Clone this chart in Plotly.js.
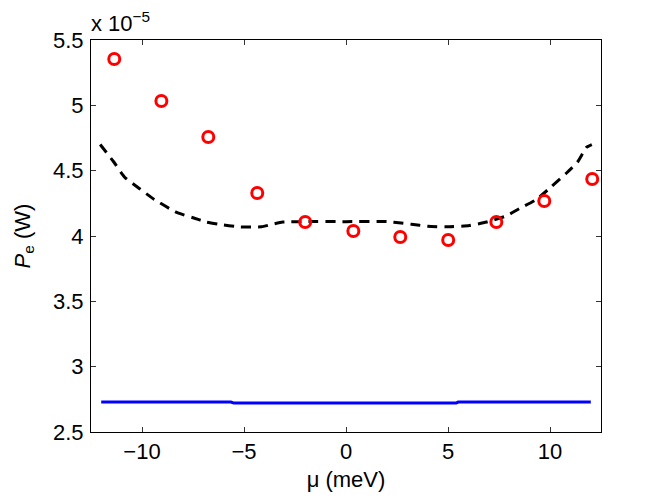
<!DOCTYPE html>
<html>
<head>
<meta charset="utf-8">
<script src="https://cdn.plot.ly/plotly-3.0.1.min.js"></script>
<style>
  html, body { margin: 0; padding: 0; background: #fff; }
  #chart { width: 664px; height: 497px; }
</style>
</head>
<body>
<div id="chart"></div>
<script>
// measured points (units of 1e-5 W)
const muMeas = [-11.36, -9.05, -6.75, -4.35, -2.0, 0.36, 2.66, 5.01, 7.37, 9.72, 12.07]
const peMeas = [5.355, 5.033, 4.758, 4.329, 4.107, 4.038, 3.992, 3.969, 4.107, 4.268, 4.436]

// dashed model curve
const muModel = [-12.05, -11.4, -10.85, -10.1, -9.4, -8.3, -7.5, -6.85, -6.0, -5.2, -4.15, -3.6, -3.1, -2.0, 0, 2.0, 2.7, 3.2, 4.0, 4.9, 6.05, 6.9, 7.85, 8.5, 9.3, 10.05, 10.8, 11.35, 11.8, 12.05]
const peModel = [4.70, 4.57, 4.45, 4.36, 4.28, 4.18, 4.14, 4.107, 4.085, 4.07, 4.07, 4.09, 4.107, 4.11, 4.11, 4.11, 4.10, 4.09, 4.075, 4.07, 4.08, 4.107, 4.153, 4.21, 4.276, 4.375, 4.48, 4.566, 4.68, 4.70]

// solid reference line
const muRef = [-12.0, -5.64, -5.5, 5.4, 5.5, 12.0]
const peRef = [2.729, 2.729, 2.721, 2.721, 2.729, 2.729]

const font = {family: 'Liberation Sans, Arial, sans-serif', size: 22, color: '#000'}

const data = [
    {
        x: muRef, y: peRef, type: 'scatter', mode: 'lines',
        line: {color: '#0000ff', width: 3}, hoverinfo: 'skip'
    },
    {
        x: muModel, y: peModel, type: 'scatter', mode: 'lines',
        line: {color: '#000', width: 3, dash: '10px,7px', shape: 'spline', smoothing: 0.5}
    },
    {
        x: muMeas, y: peMeas, type: 'scatter', mode: 'markers',
        marker: {symbol: 'circle-open', size: 11, color: '#ff0000', line: {width: 3, color: '#ff0000'}}
    },
]

const layout = {
    width: 664,
    height: 497,
    showlegend: false,
    paper_bgcolor: '#fff',
    plot_bgcolor: '#fff',
    font: font,
    margin: {l: 91, r: 63, t: 40, b: 65, pad: 0},
    xaxis: {
        range: [-12.5, 12.5],
        tickvals: [-10, -5, 0, 5, 10],
        ticktext: ['\u221210', '\u22125', '0', '5', '10'],
        ticks: 'inside', ticklen: 5, tickcolor: '#333', tickwidth: 1,
        showline: true, linecolor: '#000', linewidth: 1, mirror: 'ticks',
        showgrid: false, zeroline: false,
        tickfont: font,
        title: {text: '\u03bc (meV)', font: font, standoff: 8},
    },
    yaxis: {
        range: [2.5, 5.5],
        tickvals: [2.5, 3, 3.5, 4, 4.5, 5, 5.5],
        ticktext: ['2.5', '3', '3.5', '4', '4.5', '5', '5.5'],
        ticks: 'inside', ticklen: 5, tickcolor: '#333', tickwidth: 1,
        showline: true, linecolor: '#000', linewidth: 1, mirror: 'ticks',
        showgrid: false, zeroline: false,
        tickfont: font,
        ticklabelstandoff: 2,
        title: {text: '<i>P</i><sub>e</sub> (W)', font: font, standoff: 16},
    },
    annotations: [
        {
            xref: 'paper', yref: 'paper', x: 0, y: 1, xanchor: 'left', yanchor: 'bottom',
            xshift: -2, yshift: 2,
            text: 'x 10<sup>\u22125</sup>', showarrow: false, font: font
        }
    ],
}

Plotly.newPlot('chart', data, layout, {displayModeBar: false, staticPlot: true})
</script>
</body>
</html>
